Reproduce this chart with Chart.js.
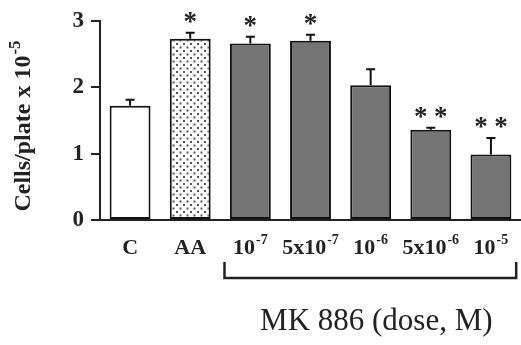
<!DOCTYPE html>
<html><head><meta charset="utf-8">
<script src="https://cdn.jsdelivr.net/npm/chart.js@4"></script>
<style>html,body{margin:0;padding:0;background:#fff}#w{width:521px;height:345px}</style>
</head><body><div id="w"><canvas id="c" width="521" height="345"></canvas></div>
<script>
const categories = ["C", "AA", "10⁻⁷", "5x10⁻⁷", "10⁻⁶", "5x10⁻⁶", "10⁻⁵"];
const values = [1.72, 2.73, 2.66, 2.70, 2.03, 1.36, 0.985];
const errors = [0.09, 0.09, 0.10, 0.09, 0.24, 0.03, 0.25];
const marks = ["", "*", "*", "*", "", "**", "**"];
const yTicks = [0, 1, 2, 3];
const yTitle = "Cells/plate x 10⁻⁵";
const groupLabel = "MK 886 (dose, M)";

const SERIF = "'Liberation Serif','DejaVu Serif',serif";
const SUP = {'⁻':'-','⁰':'0','¹':'1','²':'2','³':'3','⁴':'4','⁵':'5','⁶':'6','⁷':'7','⁸':'8','⁹':'9'};
function splitSup(s){
  let base = '', sup = '';
  for (const ch of s) { if (SUP[ch]) sup += SUP[ch]; else base += ch; }
  return [base, sup];
}

function dotPattern(){
  const t = document.createElement('canvas'); t.width = 7; t.height = 7;
  const g = t.getContext('2d');
  g.fillStyle = '#fff'; g.fillRect(0,0,7,7);
  g.fillStyle = '#555';
  g.fillRect(1,1,2,2); g.fillRect(4.5,4.5,2,2);
  return g.createPattern(t,'repeat');
}
const ctx0 = document.getElementById('c').getContext('2d');
const pat = dotPattern();
const fills = ['#ffffff', pat, '#747474', '#747474', '#747474', '#747474', '#747474'];

function drawSupText(ctx, text, cx, cy, baseSize, supSize, raise, weight, align){
  const [base, sup] = splitSup(text);
  ctx.font = weight + " " + baseSize + "px " + SERIF;
  const bw = ctx.measureText(base).width;
  ctx.font = weight + " " + supSize + "px " + SERIF;
  const sw = sup ? ctx.measureText(sup).width + 1 : 0;
  const total = bw + sw;
  let x0 = align === 'center' ? cx - total/2 : cx;
  ctx.textAlign = 'left'; ctx.textBaseline = 'middle';
  ctx.font = weight + " " + baseSize + "px " + SERIF;
  ctx.fillText(base, x0, cy);
  if (sup) {
    ctx.font = weight + " " + supSize + "px " + SERIF;
    ctx.fillText(sup, x0 + bw + 1, cy - raise);
  }
}

const extras = {
  id: 'extras',
  afterDatasetsDraw(chart){
    const ctx = chart.ctx, x = chart.scales.x, y = chart.scales.y;
    const meta = chart.getDatasetMeta(0);
    ctx.save();
    ctx.strokeStyle = '#111'; ctx.lineWidth = 2;
    values.forEach((v,i) => {
      const px = meta.data[i].x;
      const top = y.getPixelForValue(v), et = y.getPixelForValue(v + errors[i]);
      ctx.beginPath();
      ctx.moveTo(px, top); ctx.lineTo(px, et);
      ctx.moveTo(px - 4.5, et); ctx.lineTo(px + 4.5, et);
      ctx.stroke();
      if (marks[i]) {
        ctx.fillStyle = '#222';
        ctx.font = "bold 27px " + SERIF;
        ctx.textAlign = 'center'; ctx.textBaseline = 'middle';
        const n = marks[i].length;
        for (let k = 0; k < n; k++) {
          ctx.fillText('*', px + (k - (n-1)/2) * 20, et - 10);
        }
      }
    });
    // x labels
    ctx.fillStyle = '#222';
    categories.forEach((c,i) => {
      drawSupText(ctx, c, x.getPixelForValue(i), y.bottom + 28, 22, 14, 8, 'bold', 'center');
    });
    // bracket
    const cw = x.getPixelForValue(1) - x.getPixelForValue(0);
    const bl = x.getPixelForValue(2) - 0.43*cw, br = x.getPixelForValue(6) + 0.42*cw;
    const by = y.bottom + 58;
    ctx.lineWidth = 2.5; ctx.strokeStyle = '#222';
    ctx.beginPath();
    ctx.moveTo(bl, by - 16); ctx.lineTo(bl, by); ctx.lineTo(br, by); ctx.lineTo(br, by - 16);
    ctx.stroke();
    ctx.font = "31px " + SERIF;
    ctx.textAlign = 'center'; ctx.textBaseline = 'middle';
    ctx.fillText(groupLabel, (bl + br)/2 + 6, by + 44);
    // y title
    ctx.save();
    ctx.translate(24, 126);
    ctx.rotate(-Math.PI/2);
    drawSupText(ctx, yTitle, 0, 0, 24, 17, 8, 'bold', 'center');
    ctx.restore();
    ctx.restore();
  }
};

new Chart(ctx0, {
  type: 'bar',
  data: { labels: categories, datasets: [{
    data: values, backgroundColor: fills, borderColor: '#111', borderWidth: 2,
    borderSkipped: false, barPercentage: 0.68, categoryPercentage: 1
  }]},
  options: {
    responsive: false, animation: false, devicePixelRatio: 1,
    layout: { padding: { top: 19, right: 0, left: 0, bottom: 0 } },
    plugins: { legend: { display: false }, tooltip: { enabled: false } },
    scales: {
      x: {
        afterFit(s){ s.height = 125; },
        grid: { display: false, drawTicks: false },
        border: { display: true, color: '#222', width: 2 },
        ticks: { display: false }
      },
      y: {
        min: 0, max: 3,
        afterFit(s){ s.width = 100; },
        afterBuildTicks(s){ s.ticks = yTicks.map(v => ({ value: v })); },
        grid: { drawOnChartArea: false, drawTicks: true, tickLength: 9, color: '#222', lineWidth: 2 },
        border: { display: true, color: '#222', width: 2 },
        ticks: { color: '#222', font: { family: SERIF, size: 23, weight: 'bold' }, padding: 7 }
      }
    }
  },
  plugins: [extras]
});
</script></body></html>
